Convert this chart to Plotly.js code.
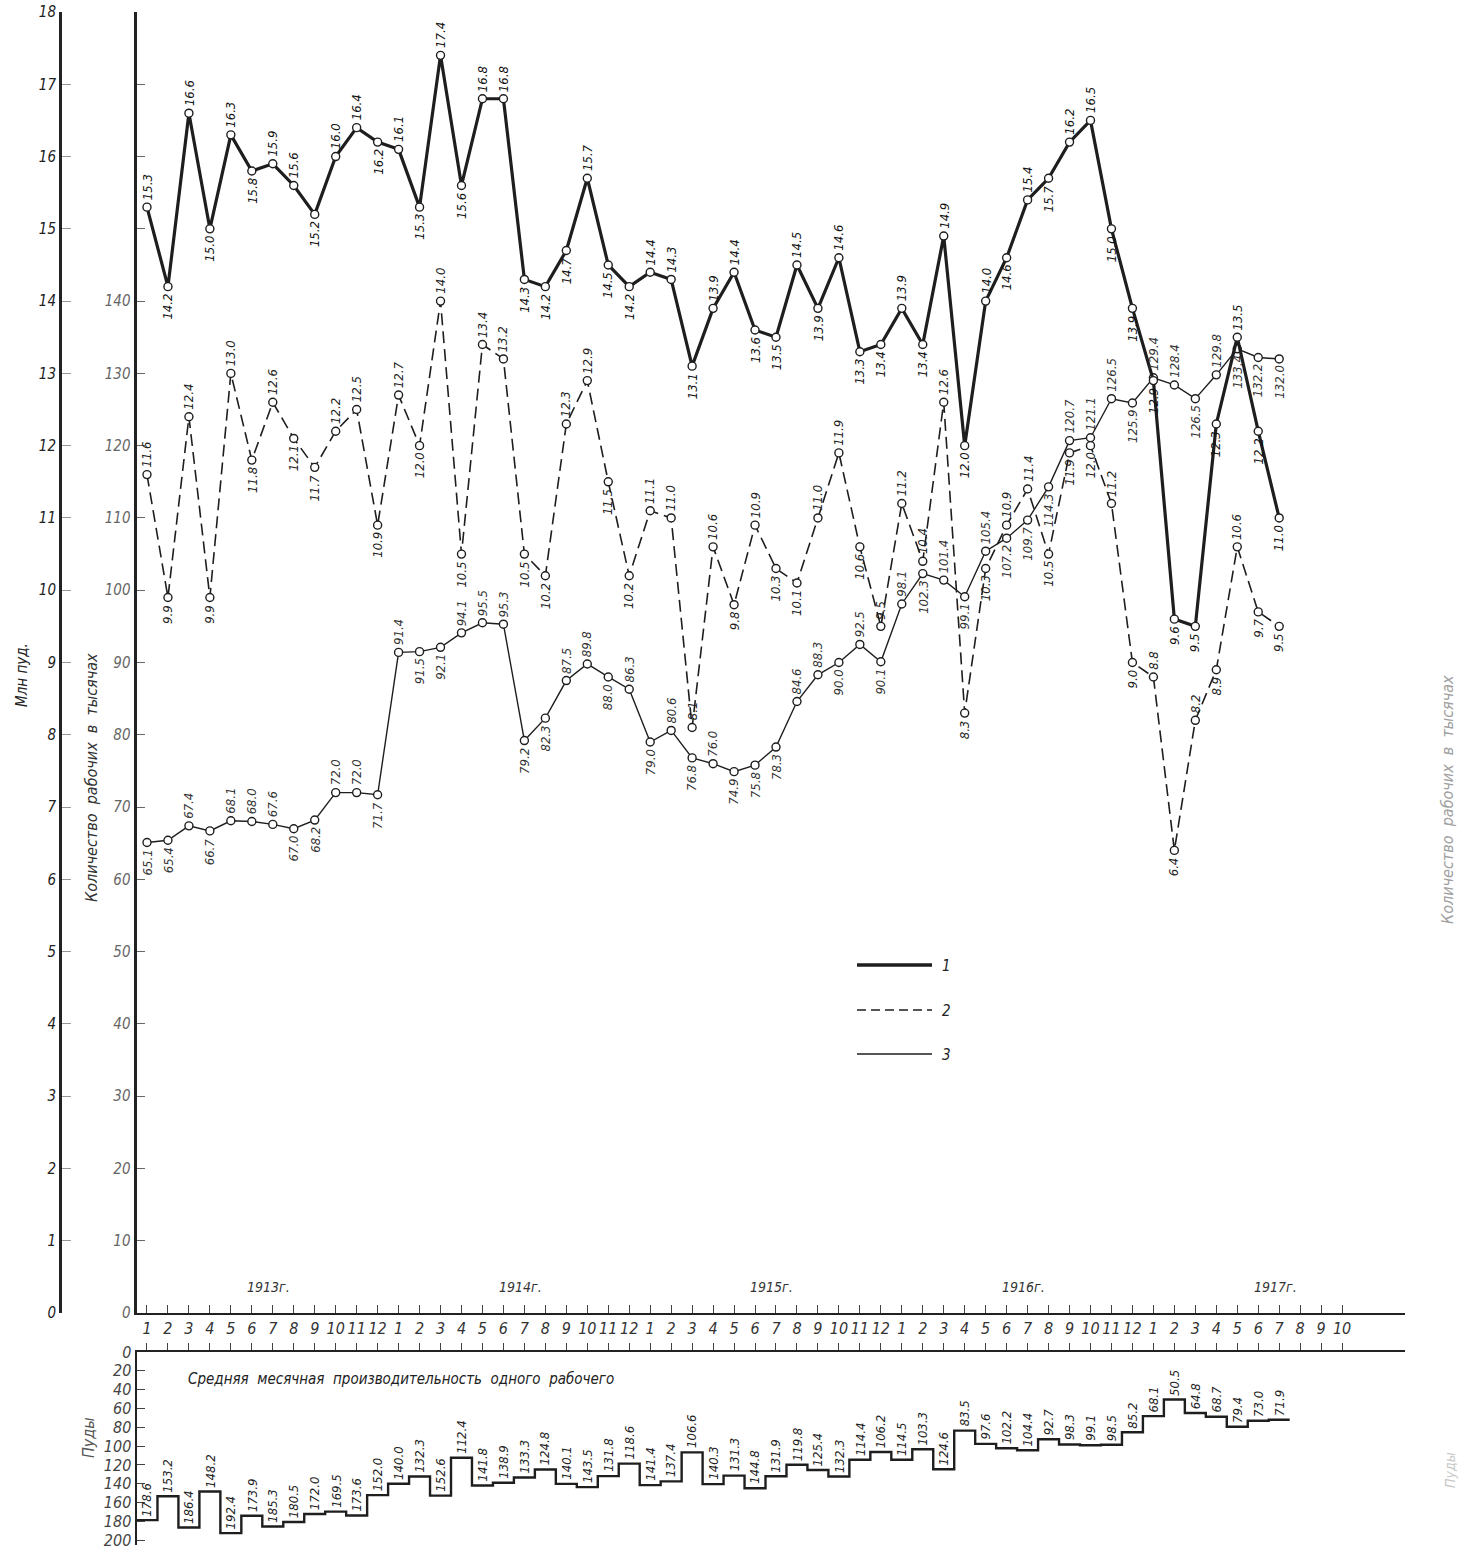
<!DOCTYPE html>
<html><head><meta charset="utf-8">
<script src="https://cdn.plot.ly/plotly-3.0.1.min.js"></script>
<style>html,body{margin:0;padding:0;background:#fff}</style>
</head><body>
<div id="chart" style="width:1460px;height:1553px"></div>
<script>
// ---- DATA ----
const monthTicks = ['1','2','3','4','5','6','7','8','9','10','11','12',
  '1','2','3','4','5','6','7','8','9','10','11','12',
  '1','2','3','4','5','6','7','8','9','10','11','12',
  '1','2','3','4','5','6','7','8','9','10','11','12',
  '1','2','3','4','5','6','7','8','9','10'];
const years = ['1913г.','1914г.','1915г.','1916г.','1917г.'];
// 1: добыча, млн пуд.
const output = [15.3,14.2,16.6,15.0,16.3,15.8,15.9,15.6,15.2,16.0,16.4,16.2,
  16.1,15.3,17.4,15.6,16.8,16.8,14.3,14.2,14.7,15.7,14.5,14.2,
  14.4,14.3,13.1,13.9,14.4,13.6,13.5,14.5,13.9,14.6,13.3,13.4,
  13.9,13.4,14.9,12.0,14.0,14.6,15.4,15.7,16.2,16.5,15.0,13.9,
  12.9,9.6,9.5,12.3,13.5,12.2,11.0];
// 2: млн пуд. (пунктир)
const series2 = [11.6,9.9,12.4,9.9,13.0,11.8,12.6,12.1,11.7,12.2,12.5,10.9,
  12.7,12.0,14.0,10.5,13.4,13.2,10.5,10.2,12.3,12.9,11.5,10.2,
  11.1,11.0,8.1,10.6,9.8,10.9,10.3,10.1,11.0,11.9,10.6,9.5,
  11.2,10.4,12.6,8.3,10.3,10.9,11.4,10.5,11.9,12.0,11.2,9.0,
  8.8,6.4,8.2,8.9,10.6,9.7,9.5];
// 3: количество рабочих, тыс.
const workers = [65.1,65.4,67.4,66.7,68.1,68.0,67.6,67.0,68.2,72.0,72.0,71.7,
  91.4,91.5,92.1,94.1,95.5,95.3,79.2,82.3,87.5,89.8,88.0,86.3,
  79.0,80.6,76.8,76.0,74.9,75.8,78.3,84.6,88.3,90.0,92.5,90.1,
  98.1,102.3,101.4,99.1,105.4,107.2,109.7,114.3,120.7,121.1,126.5,125.9,
  129.4,128.4,126.5,129.8,133.4,132.2,132.0];
// Средняя месячная производительность одного рабочего, пуды
const productivity = [178.6,153.2,186.4,148.2,192.4,173.9,185.3,180.5,172.0,169.5,173.6,152.0,
  140.0,132.3,152.6,112.4,141.8,138.9,133.3,124.8,140.1,143.5,131.8,118.6,
  141.4,137.4,106.6,140.3,131.3,144.8,131.9,119.8,125.4,132.3,114.4,106.2,
  114.5,103.3,124.6,83.5,97.6,102.2,104.4,92.7,98.3,99.1,98.5,85.2,
  68.1,50.5,64.8,68.7,79.4,73.0,71.9];
const leftTicks = ['0','1','2','3','4','5','6','7','8','9','10','11','12','13','14','15','16','17','18'];
const workerTicks = ['0','10','20','30','40','50','60','70','80','90','100','110','120','130','140','','','',''];
const rightTicks = ['','20','30','40','50','60','70','80','90','100','110','120','130','140','','','',''];
const pudTicks = ['0','20','40','60','80','100','120','140','160','180','200'];

// ---- LAYOUT HELPERS ----
const W = 1460, H = 1553, ML = 60, MR = 55, MT = 10, MB = 8;
const PW = W - ML - MR, PH = H - MT - MB;
const px = x => (x - ML) / PW;
const py = y => (H - MB - y) / PH;
const FONT = 'DejaVu Sans Condensed, DejaVu Sans, sans-serif';
const ink = '#1e1e1e';
const italic = (size, color) => ({family: FONT, size: size, color: color, style: 'italic'});

const idx = monthTicks.map((_, i) => i);
const dataIdx = output.map((_, i) => i);

// label side: above (+1) for local highs, below (-1) for local lows
function sides(arr) {
  return arr.map((v, i) => {
    const p = i > 0 ? arr[i - 1] : arr[i + 1];
    const n = i < arr.length - 1 ? arr[i + 1] : arr[i - 1];
    return v >= (p + n) / 2 ? 1 : -1;
  });
}
// common scale (thousand workers == 0.1 mln pud) to resolve label collisions
const scaled = [output.map(v => v * 10), series2.map(v => v * 10), workers];
const sideSets = [sides(output), sides(series2), sides(workers)];
for (let i = 0; i < workers.length; i++) {
  for (let a = 0; a < 3; a++) for (let b = a + 1; b < 3; b++) {
    if (Math.abs(scaled[a][i] - scaled[b][i]) < 8) {
      const aHigh = scaled[a][i] >= scaled[b][i];
      sideSets[a][i] = aHigh ? 1 : -1;
      sideSets[b][i] = aHigh ? -1 : 1;
    }
  }
}

const annotations = [];
function addLabels(arr, sd, yref, color, size, shift) {
  arr.forEach((v, i) => {
    const s = sd[i];
    annotations.push({
      x: i, y: v, xref: 'x', yref: yref, text: v.toFixed(1), showarrow: false,
      textangle: -90, xanchor: 'center', yanchor: s > 0 ? 'bottom' : 'top',
      yshift: s > 0 ? shift : -shift,
      font: italic(size, color)
    });
  });
}
addLabels(output, sideSets[0], 'y2', '#111', 13, 5);
addLabels(series2, sideSets[1], 'y2', '#222', 13, 5);
addLabels(workers, sideSets[2], 'y', '#333', 13, 5);
// bottom panel labels: always above the step
productivity.forEach((v, i) => {
  annotations.push({
    x: i, y: v, xref: 'x2', yref: 'y4', text: v.toFixed(1), showarrow: false,
    textangle: -90, xanchor: 'center', yanchor: 'bottom', yshift: 2,
    font: italic(13, '#222')
  });
});
years.forEach((t, i) => {
  annotations.push({
    x: 12 * i + 5.8, y: 3.6, xref: 'x', yref: 'y', text: t, showarrow: false,
    xanchor: 'center', yanchor: 'middle', font: italic(14, '#333')
  });
});
function paperText(x, y, text, font, angle, xa) {
  return {x: px(x), y: py(y), xref: 'paper', yref: 'paper', text: text, textangle: angle || 0,
    xanchor: xa || 'center', yanchor: 'middle', showarrow: false, font: font};
}
annotations.push(
  paperText(22, 675, 'Млн пуд.', italic(15, '#222'), -90),
  paperText(91, 778, 'Количество  рабочих  в  тысячах', italic(16, '#333'), -90),
  paperText(1447, 800, 'Количество  рабочих  в  тысячах', italic(16, '#a0a0a0'), -90),
  paperText(88, 1438, 'Пуды', italic(16, '#555'), -90),
  paperText(1450, 1470, 'Пуды', italic(14, '#c8c8c8'), -90),
  paperText(186, 1379, 'Средняя  месячная  производительность  одного  рабочего', italic(15, '#222'), 0, 'left'),
  paperText(940, 966, '1', italic(15, '#222'), 0, 'left'),
  paperText(940, 1011, '2', italic(15, '#222'), 0, 'left'),
  paperText(940, 1055, '3', italic(15, '#222'), 0, 'left')
);
const shapes = [
  {type: 'line', xref: 'paper', yref: 'paper', x0: px(857), x1: px(932), y0: py(965), y1: py(965), line: {color: ink, width: 3.5}},
  {type: 'line', xref: 'paper', yref: 'paper', x0: px(857), x1: px(932), y0: py(1010), y1: py(1010), line: {color: ink, width: 1.5, dash: '9px,5px'}},
  {type: 'line', xref: 'paper', yref: 'paper', x0: px(857), x1: px(932), y0: py(1054), y1: py(1054), line: {color: ink, width: 1.5}}
];

const mk = {symbol: 'circle', size: 8, color: '#fff', line: {color: ink, width: 1.4}};
const stepX = productivity.map((_, i) => i - 0.5).concat([productivity.length - 0.5]);
const stepY = productivity.concat([productivity[productivity.length - 1]]);

const traces = [
  {x: dataIdx, y: workers, xaxis: 'x', yaxis: 'y', mode: 'lines+markers', line: {color: ink, width: 1.4}, marker: mk, hoverinfo: 'skip'},
  {x: dataIdx, y: series2, xaxis: 'x', yaxis: 'y2', mode: 'lines+markers', line: {color: ink, width: 1.6, dash: '12px,6px'}, marker: mk, hoverinfo: 'skip'},
  {x: dataIdx, y: output, xaxis: 'x', yaxis: 'y2', mode: 'lines+markers', line: {color: ink, width: 3.2}, marker: mk, hoverinfo: 'skip'},
  {x: stepX, y: stepY, xaxis: 'x2', yaxis: 'y4', mode: 'lines', line: {color: ink, width: 2.4, shape: 'hv'}, hoverinfo: 'skip'}
];

const xr = [-0.5, 60];
const dx0 = px(136.5);
const topDom = [py(1313), py(12)];
const botDom = [0, py(1352)];
const layout = {
  width: W, height: H, margin: {l: ML, r: MR, t: MT, b: MB},
  paper_bgcolor: '#fff', plot_bgcolor: 'rgba(0,0,0,0)', showlegend: false,
  font: {family: FONT, color: '#222'},
  xaxis: {domain: [dx0, 1], range: xr, anchor: 'y', tickmode: 'array', tickvals: idx, ticktext: monthTicks,
    ticks: 'inside', ticklen: 8, tickcolor: '#444', showline: true, linecolor: '#222', linewidth: 1.6,
    showgrid: false, zeroline: false, tickfont: italic(16, '#333')},
  yaxis: {domain: topDom, range: [0, 180], anchor: 'x', side: 'left', tickmode: 'array',
    tickvals: workerTicks.map((_, i) => i * 10), ticktext: workerTicks, ticks: 'inside', ticklen: 8, tickcolor: '#666',
    showline: true, linecolor: '#222', linewidth: 3, showgrid: false, zeroline: false, tickfont: italic(15, '#666')},
  yaxis2: {overlaying: 'y', anchor: 'free', position: 0, side: 'left', range: [0, 18], tickmode: 'array',
    tickvals: leftTicks.map((_, i) => i), ticktext: leftTicks, ticks: 'inside', ticklen: 9, tickcolor: '#999',
    showline: true, linecolor: '#222', linewidth: 2.5, showgrid: false, zeroline: false, tickfont: italic(15, '#222')},
  yaxis3: {overlaying: 'y', anchor: 'x', side: 'right', range: [0, 180], tickmode: 'array',
    tickvals: rightTicks.map((_, i) => (i + 1) * 10), ticktext: rightTicks, ticks: 'inside', ticklen: 10, tickcolor: '#777',
    showline: true, linecolor: '#777', linewidth: 1.5, showgrid: false, zeroline: false, tickfont: italic(14, '#999')},
  xaxis2: {domain: [dx0, 1], range: xr, anchor: 'y4', side: 'top', tickmode: 'array', tickvals: idx,
    showticklabels: false, ticks: 'outside', ticklen: 7, tickcolor: '#444', showline: true, linecolor: '#222',
    linewidth: 1.6, showgrid: false, zeroline: false},
  yaxis4: {domain: botDom, range: [205, 0], anchor: 'x2', side: 'left', tickmode: 'array',
    tickvals: pudTicks.map(Number), ticktext: pudTicks, ticks: 'inside', ticklen: 8, tickcolor: '#444',
    showline: true, linecolor: '#222', linewidth: 2, showgrid: false, zeroline: false, tickfont: italic(16, '#444')},
  annotations: annotations, shapes: shapes
};
Plotly.newPlot('chart', traces, layout, {staticPlot: true, displayModeBar: false});
</script>
</body></html>
